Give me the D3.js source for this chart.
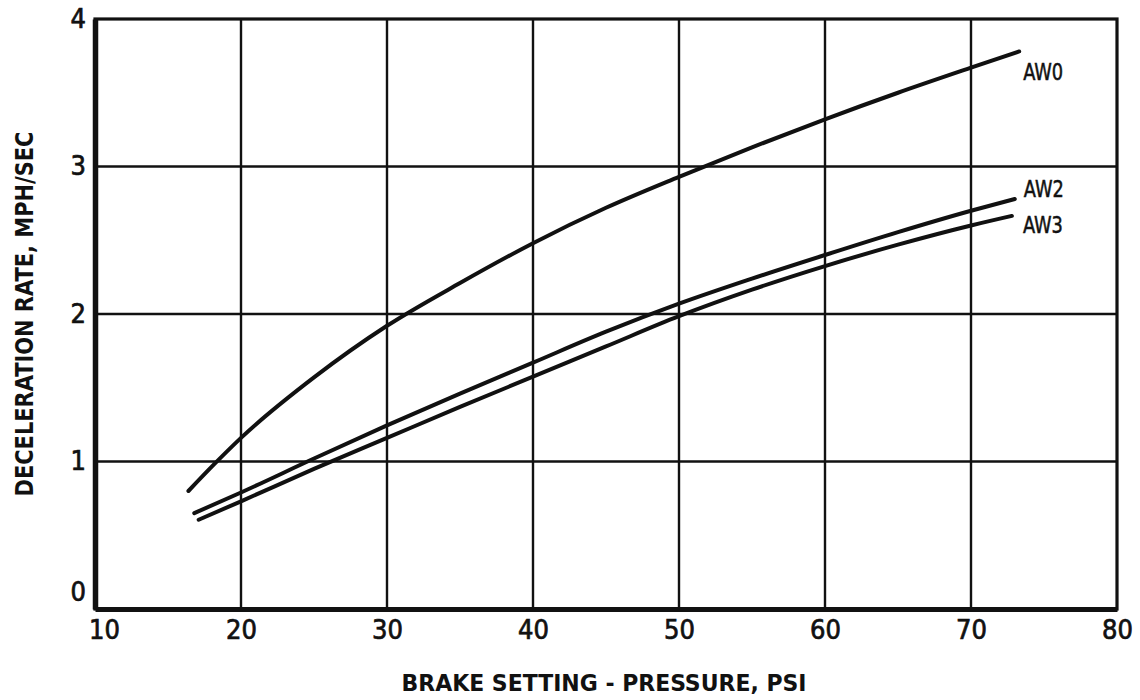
<!DOCTYPE html>
<html>
<head>
<meta charset="utf-8">
<script src="https://cdn.jsdelivr.net/npm/d3@7"></script>
<style>
  html, body { margin: 0; padding: 0; background: #fff; }
  svg { display: block; }
  text { fill: #111; font-family: "DejaVu Sans Condensed", "DejaVu Sans", sans-serif; }
</style>
</head>
<body>
<svg id="chart" width="1140" height="700"></svg>
<script>
// Brake setting pressure (psi) vs. deceleration rate (mph/sec), per load condition
const pressureAW0 = [16.4, 18.2, 20, 25, 30, 35, 40, 45, 50, 55, 60, 65, 70, 73.3];
const decelAW0    = [0.80, 0.985, 1.16, 1.57, 1.92, 2.21, 2.48, 2.72, 2.93, 3.13, 3.32, 3.50, 3.67, 3.78];

const pressureAW2 = [16.8, 20, 25, 30, 35, 40, 45, 50, 55, 60, 65, 70, 73.0];
const decelAW2    = [0.65, 0.79, 1.02, 1.245, 1.46, 1.67, 1.88, 2.07, 2.24, 2.40, 2.555, 2.70, 2.78];

const pressureAW3 = [17.1, 20, 25, 30, 35, 40, 45, 50, 55, 60, 65, 70, 72.8];
const decelAW3    = [0.605, 0.73, 0.95, 1.16, 1.37, 1.575, 1.78, 1.985, 2.165, 2.325, 2.47, 2.60, 2.665];

const seriesNames = ["AW0", "AW2", "AW3"];
const xTicks = [10, 20, 30, 40, 50, 60, 70, 80];
const yTicks = [0, 1, 2, 3, 4];
const xTitle = "BRAKE SETTING - PRESSURE, PSI";
const yTitle = "DECELERATION RATE, MPH/SEC";

const series = [
  { name: seriesNames[0], xs: pressureAW0, ys: decelAW0 },
  { name: seriesNames[1], xs: pressureAW2, ys: decelAW2 },
  { name: seriesNames[2], xs: pressureAW3, ys: decelAW3 }
];

const svg = d3.select("#chart");
const plotLeft = 95, plotRight = 1117, plotTop = 19, plotBottom = 609;

const x = d3.scaleLinear().domain([10, 80]).range([plotLeft, plotRight]);
const y = d3.scaleLinear().domain([0, 4]).range([plotBottom, plotTop]);

// grid
const grid = svg.append("g").attr("stroke", "#111").attr("stroke-width", 2.4);
grid.selectAll("line.v").data(xTicks.slice(1, -1)).join("line")
  .attr("class", "v")
  .attr("x1", d => x(d)).attr("x2", d => x(d))
  .attr("y1", plotTop).attr("y2", plotBottom);
grid.selectAll("line.h").data(yTicks.slice(1, -1)).join("line")
  .attr("class", "h")
  .attr("x1", plotLeft).attr("x2", plotRight)
  .attr("y1", d => y(d)).attr("y2", d => y(d));

// frame: heavier left and bottom axes
svg.append("rect")
  .attr("x", plotLeft).attr("y", plotTop)
  .attr("width", plotRight - plotLeft).attr("height", plotBottom - plotTop)
  .attr("fill", "none").attr("stroke", "#111").attr("stroke-width", 3.2);

const xAxis = d3.axisBottom(x).tickValues(xTicks).tickSize(0).tickPadding(11)
  .tickFormat(d3.format("d"));
const gx = svg.append("g").attr("transform", `translate(0,${plotBottom})`).call(xAxis);
gx.select(".domain").attr("stroke", "#111").attr("stroke-width", 5);
gx.selectAll("text")
  .style("font-size", "27px")
  .attr("stroke", "#111").attr("stroke-width", 0.7)
  .attr("dy", "0.72em")
  .attr("dx", d => d === 10 ? 9 : 0);

const yAxis = d3.axisLeft(y).tickValues(yTicks).tickSize(0).tickPadding(9)
  .tickFormat(d3.format("d"));
const gy = svg.append("g").attr("transform", `translate(${plotLeft},0)`).call(yAxis);
gy.select(".domain").attr("stroke", "#111").attr("stroke-width", 5.5);
gy.selectAll("text")
  .style("font-size", "27px")
  .attr("stroke", "#111").attr("stroke-width", 0.7)
  .attr("dy", d => d === 0 ? "-0.3em" : "0.3em");

// curves
const line = d3.line()
  .x(d => x(d[0]))
  .y(d => y(d[1]))
  .curve(d3.curveMonotoneX);

svg.append("g").selectAll("path").data(series).join("path")
  .attr("d", s => line(s.xs.map((v, i) => [v, s.ys[i]])))
  .attr("fill", "none")
  .attr("stroke", "#111")
  .attr("stroke-width", 4)
  .attr("stroke-linecap", "round");

// series labels next to the curve ends
const labelOffset = { AW0: [4, 20], AW2: [9, -10], AW3: [11, 9] };
svg.append("g").selectAll("text").data(series).join("text")
  .attr("x", s => x(s.xs[s.xs.length - 1]) + labelOffset[s.name][0])
  .attr("y", s => y(s.ys[s.ys.length - 1]) + labelOffset[s.name][1])
  .attr("dy", "0.36em")
  .style("font-size", "23px")
  .attr("stroke", "#111").attr("stroke-width", 0.5)
  .attr("textLength", 40).attr("lengthAdjust", "spacingAndGlyphs")
  .text(s => s.name);

// axis titles
svg.append("text")
  .attr("x", 604).attr("y", 683)
  .attr("text-anchor", "middle")
  .attr("dy", "0.36em")
  .style("font-size", "23px").style("font-weight", "bold")
  .attr("textLength", 405).attr("lengthAdjust", "spacingAndGlyphs")
  .text(xTitle);

svg.append("text")
  .attr("transform", `translate(24,${(plotTop + plotBottom) / 2}) rotate(-90)`)
  .attr("text-anchor", "middle")
  .attr("dy", "0.36em")
  .style("font-size", "24px").style("font-weight", "bold")
  .attr("textLength", 365).attr("lengthAdjust", "spacingAndGlyphs")
  .text(yTitle);
</script>
</body>
</html>
